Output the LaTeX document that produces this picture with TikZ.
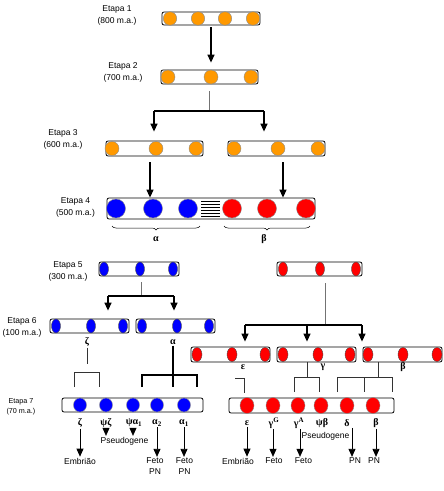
\documentclass[tikz,border=0pt]{standalone}
\usepackage{fontspec}
\setmainfont{Liberation Sans}
\newfontfamily\grkfont{Liberation Serif}
\usepackage{tikz}
\usetikzlibrary{arrows.meta,shapes.geometric,decorations.pathreplacing}

\definecolor{gorange}{RGB}{255,153,0}

\begin{document}
\begin{tikzpicture}[x=1pt,y=-1pt]
        \tikzstyle{chrom}=[draw, rounded corners=2pt, inner sep=0pt, line width=0.8pt]
        \tikzstyle{gene}=[ellipse, draw=black!45, line width=0.4pt, inner sep=0pt]
        \tikzstyle{stage}=[align=center, inner sep=0pt, font=\fontsize{8.5}{12}\selectfont]
        \tikzstyle{txt}=[align=center, inner sep=1pt, font=\fontsize{8.5}{11}\selectfont]
        \tikzstyle{greek}=[inner sep=1pt, font=\grkfont\bfseries\fontsize{10}{11}\selectfont]
        \tikzstyle{arr}=[-{Triangle[width=7pt,length=8pt]}, line width=1.4pt]
        \tikzstyle{tarr}=[-{Triangle[width=7pt,length=8pt]}, line width=0.8pt]
        \tikzstyle{stem}=[draw=black!55, line width=0.8pt]
        \tikzstyle{bar}=[line width=1.6pt]
        \tikzstyle{thin}=[draw=black!80, line width=0.8pt]

        \useasboundingbox (0,0) rectangle (444,491);

        % Etapa 1
        \node[stage] (l1) at (117,15) {Etapa 1\\(800 m.a.)};
        \node[chrom, minimum width=98pt, minimum height=13pt] (e1) at (211,18.5) {};
        \foreach \x [count=\i] in {170,198,225,253}
            \node[gene, fill=gorange, minimum width=13.5pt, minimum height=13.5pt] (e1g\i) at (\x,18.5) {};

        % Etapa 2
        \node[stage] (l2) at (123,72.5) {Etapa 2\\(700 m.a.)};
        \node[chrom, minimum width=97pt, minimum height=14pt] (e2) at (209.5,77) {};
        \foreach \x [count=\i] in {168,211,251}
            \node[gene, fill=gorange, minimum width=14pt, minimum height=14pt] (e2g\i) at (\x,77) {};
        \draw[arr, shorten <=2pt, shorten >=7pt] (e1) -- (e1 |- e2.north);

        % Etapa 3
        \node[stage] (l3) at (63,139) {Etapa 3\\(600 m.a.)};
        \node[chrom, minimum width=97pt, minimum height=15pt] (e3a) at (154.5,148.5) {};
        \node[chrom, minimum width=97pt, minimum height=15pt] (e3b) at (276.5,148.5) {};
        \foreach \x [count=\i] in {112,156,196}
            \node[gene, fill=gorange, minimum width=14pt, minimum height=14pt] (e3ag\i) at (\x,148.5) {};
        \foreach \x [count=\i] in {234,278,318}
            \node[gene, fill=gorange, minimum width=14pt, minimum height=14pt] (e3bg\i) at (\x,148.5) {};

        \coordinate (j2) at (209,111);
        \coordinate (j2a) at (154,111);
        \coordinate (j2b) at (264,111);
        \draw[stem, shorten <=7pt] (j2 |- e2.south) -- (j2);
        \draw[bar] (j2a) -- (j2b);
        \draw[arr, shorten >=9pt] (j2a) -- (j2a |- e3a.north);
        \draw[arr, shorten >=9pt] (j2b) -- (j2b |- e3b.north);

        % Etapa 4
        \node[stage] (l4) at (75.5,207) {Etapa 4\\(500 m.a.)};
        \node[chrom, minimum width=208pt, minimum height=21pt] (e4) at (211,208.5) {};
        \foreach \x [count=\i] in {116,153,188}
            \node[gene, fill=blue, minimum width=19pt, minimum height=19pt] (e4a\i) at (\x,208.5) {};
        \foreach \x [count=\i] in {232,267,306}
            \node[gene, fill=red, minimum width=19pt, minimum height=19pt] (e4b\i) at (\x,208.5) {};
        \foreach \y in {201,204,...,216}
            \draw[line width=0.5pt] (201,\y) -- (220,\y);
        \draw[arr, line width=1.2pt, shorten <=6pt] ([xshift=-4.5pt]e3a.south) -- ([xshift=-4.5pt]e3a.south |- e4.north);
        \draw[arr, line width=1.2pt, shorten <=6pt] ([xshift=6.5pt]e3b.south) -- ([xshift=6.5pt]e3b.south |- e4.north);

        \draw[decorate, decoration={brace, mirror, amplitude=4pt}, line width=0.5pt] (112,226) -- (200,226);
        \draw[decorate, decoration={brace, mirror, amplitude=4pt}, line width=0.5pt] (224,226) -- (310,226);
        \node[greek] (la4) at (156,239) {α};
        \node[greek] (lb4) at (264,239) {β};

        % Etapa 5
        \node[stage] (l5) at (68,271) {Etapa 5\\(300 m.a.)};
        \node[chrom, minimum width=80pt, minimum height=14pt] (e5a) at (139,269) {};
        \node[chrom, minimum width=85pt, minimum height=14pt] (e5b) at (319.5,269) {};
        \foreach \x [count=\i] in {104,140,173}
            \node[gene, draw=black!70, fill=blue, minimum width=9pt, minimum height=14pt] (e5ag\i) at (\x,269) {};
        \foreach \x [count=\i] in {283,320,356}
            \node[gene, draw=black!70, fill=red, minimum width=9pt, minimum height=14pt] (e5bg\i) at (\x,269) {};

        % Etapa 6
        \node[stage] (l6) at (22,327) {Etapa 6\\(100 m.a.)};
        \node[chrom, minimum width=79pt, minimum height=14pt] (e6a) at (89.5,326) {};
        \node[chrom, minimum width=79pt, minimum height=14pt] (e6b) at (175.5,326) {};
        \foreach \x [count=\i] in {56,91,123}
            \node[gene, draw=black!70, fill=blue, minimum width=9pt, minimum height=14pt] (e6ag\i) at (\x,326) {};
        \foreach \x [count=\i] in {142,177,209}
            \node[gene, draw=black!70, fill=blue, minimum width=9pt, minimum height=14pt] (e6bg\i) at (\x,326) {};

        \node[chrom, minimum width=79pt, minimum height=15pt] (e6c) at (230.5,354.5) {};
        \node[chrom, minimum width=79pt, minimum height=15pt] (e6d) at (316.5,354.5) {};
        \node[chrom, minimum width=79pt, minimum height=15pt] (e6e) at (402.5,354.5) {};
        \foreach \x [count=\i] in {197,232,265}
            \node[gene, draw=black!70, fill=red, minimum width=10pt, minimum height=14pt] (e6cg\i) at (\x,354.5) {};
        \foreach \x [count=\i] in {283,318,350}
            \node[gene, draw=black!70, fill=red, minimum width=10pt, minimum height=14pt] (e6dg\i) at (\x,354.5) {};
        \foreach \x [count=\i] in {368,403,437}
            \node[gene, draw=black!70, fill=red, minimum width=10pt, minimum height=14pt] (e6eg\i) at (\x,354.5) {};

        \coordinate (j5) at (141,296);
        \coordinate (j5a) at (108,296);
        \coordinate (j5b) at (174,296);
        \draw[stem, shorten <=6pt] (j5 |- e5a.south) -- (j5);
        \draw[bar] (j5a) -- (j5b);
        \draw[arr, shorten >=8pt] (j5a) -- (j5a |- e6a.north);
        \draw[arr, shorten >=8pt] (j5b) -- (j5b |- e6b.north);

        \coordinate (j5r) at (325,325);
        \coordinate (j5c) at (245,325);
        \coordinate (j5d) at (307,325);
        \coordinate (j5e) at (362,325);
        \draw[stem, shorten <=7pt] (j5r |- e5b.south) -- (j5r);
        \draw[bar, line width=1.2pt] (j5c) -- (j5e);
        \draw[arr, line width=1.2pt, shorten >=5pt] (j5c) -- (j5c |- e6c.north);
        \draw[arr, line width=1.2pt, shorten >=5pt] (j5d) -- (j5d |- e6d.north);
        \draw[arr, line width=1.2pt, shorten >=5pt] (j5e) -- (j5e |- e6e.north);

        \node[greek] (lz6) at (87,342) {ζ};
        \node[greek] (la6) at (173,342) {α};
        \node[greek] (le6) at (243,367) {ε};
        \node[greek] (lg6) at (323,367) {γ};
        \node[greek] (lb6) at (403,367) {β};

        % Etapa 7
        \node[stage, font=\fontsize{7.2}{10}\selectfont] (l7) at (21,407) {Etapa 7\\(70 m.a.)};
        \node[chrom, minimum width=141pt, minimum height=14pt] (e7a) at (132.5,405) {};
        \node[chrom, minimum width=165pt, minimum height=15pt] (e7b) at (311.5,405.5) {};
        \foreach \x [count=\i] in {80,106,133,157,184}
            \node[gene, fill=blue, minimum width=13pt, minimum height=14pt] (e7ag\i) at (\x,405) {};
        \foreach \x [count=\i] in {247,273,298,321,347,373}
            \node[gene, fill=red, minimum width=14pt, minimum height=16pt] (e7bg\i) at (\x,405.5) {};

        % brackets between 6 and 7
        \coordinate (z7) at (87,364);
        \draw[thin] (lz6) -- (z7);
        \draw[thin] (74,387) -- (74,372) -- (99,372) -- (99,387);
        \draw[bar, shorten >=11pt] (la6) -- (la6 |- e7a.north);
        \draw[bar] (142,387) -- (142,375) -- (197,375) -- (197,387);

        \draw[thin] (235,378) -- (244,378) -- (244,393);
        \coordinate (g7) at (307,377);
        \draw[thin] (g7 |- e6d.south) -- (g7);
        \draw[thin] (294,392) -- (294,377) -- (319,377) -- (319,392);
        \coordinate (b7) at (378,377);
        \draw[thin] (b7 |- e6e.south) -- (b7);
        \draw[thin] (337,392) -- (337,377) -- (392,377) -- (392,392);
        \draw[thin] (364,377) -- (364,392);

        % gene labels
        \node[greek] (lz) at (80,423) {ζ};
        \node[greek] (lpz) at (106,423) {ψζ};
        \node[greek] (lpa) at (134,423) {ψα\textsubscript{1}};
        \node[greek] (la2) at (157,423) {α\textsubscript{2}};
        \node[greek] (la1) at (184,423) {α\textsubscript{1}};

        \node[greek] (le) at (247,423) {ε};
        \node[greek] (lgg) at (274,423) {γ\textsuperscript{G}};
        \node[greek] (lga) at (299,423) {γ\textsuperscript{A}};
        \node[greek] (lpb) at (322,423) {ψβ};
        \node[greek] (ld) at (347,423) {δ};
        \node[greek] (lb) at (376,423) {β};

        \node[txt] (ps1) at (124.5,441) {Pseudogene};
        \node[txt] (ps2) at (325.5,436) {Pseudogene};
        \node[txt] (emb1) at (80,461) {Embrião};
        \node[txt] (fp1) at (155,466.5) {Feto\\PN};
        \node[txt] (fp2) at (184.5,466.5) {Feto\\PN};
        \node[txt] (emb2) at (238,461) {Embrião};
        \node[txt] (fe1) at (274,461) {Feto};
        \node[txt] (fe2) at (303.5,461) {Feto};
        \node[txt] (pn1) at (355,461) {PN};
        \node[txt] (pn2) at (374,461) {PN};

        \draw[tarr] (lz) -- (lz |- emb1.north);
        \draw[tarr] (lpz) -- (lpz |- ps1.north);
        \draw[tarr] ([xshift=-1pt]lpa.south) -- ([xshift=-1pt]lpa.south |- ps1.north);
        \draw[tarr] (la2) -- (la2 |- fp1.north);
        \draw[tarr] (la1) -- (la1 |- fp2.north);

        \draw[tarr] (le) -- (le |- emb2.north);
        \draw[tarr] ([xshift=-1pt]lgg.south) -- ([xshift=-1pt]lgg.south |- fe1.north);
        \draw[tarr] ([xshift=1pt]lga.south) -- ([xshift=1pt]lga.south |- fe2.north);
        \draw[tarr] ([xshift=-3pt]pn1.north |- ld.south) -- ([xshift=-3pt]pn1.north);
        \draw[tarr] (lb) -- (lb |- pn2.north);
\end{tikzpicture}
\end{document}
